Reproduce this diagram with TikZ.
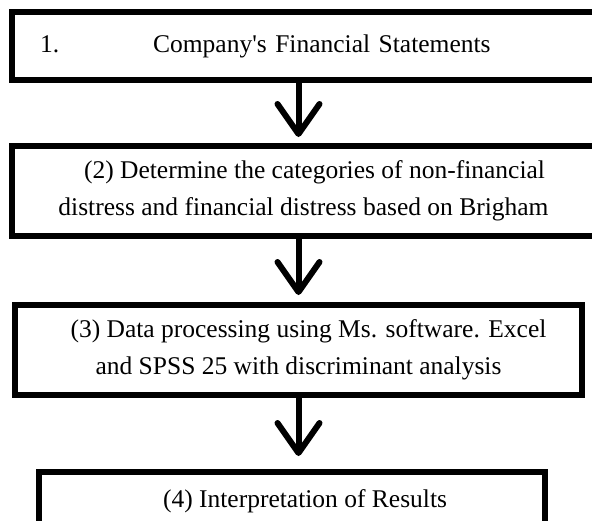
\documentclass[tikz,border=0pt]{standalone}
\usepackage{fontspec}
\setmainfont{Liberation Serif}
\usetikzlibrary{arrows.meta}
\begin{document}
\begin{tikzpicture}[x=0.5pt, y=-0.5pt,
  box/.style={draw, line width=3pt, inner sep=0pt, align=center,
    font=\fontsize{12.75}{18.5}\selectfont},
  flow/.style={line width=3pt, -{Straight Barb[length=15pt, width=21pt, round]}}]
\useasboundingbox (0,0) rectangle (592,520);
\clip (0,0) rectangle (592,520);
\node[box, minimum width=291.5pt, minimum height=34pt, text width=263.5pt, align=left] (a) at (303.5,46) {1.\hspace{47pt}Company\textquotesingle s Financial Statements};
\node[box, minimum width=291.5pt, minimum height=45pt] (b) at (303.5,191) {\hspace*{11pt}(2) Determine the categories of non-financial\\distress and financial distress based on Brigham};
\node[box, minimum width=283.5pt, minimum height=45pt] (c) at (298.5,350) {\hspace*{10pt}(3) Data processing using Ms. software. Excel\\and SPSS 25 with discriminant analysis};
\node[box, minimum width=253pt, minimum height=29pt] (d) at (292,501) {\hspace*{13pt}(4) Interpretation of Results};
\draw[flow, shorten >=3pt] (a.south -| c.center) -- (b.north -| c.center);
\draw[flow, shorten >=3.5pt] (b.south -| c.center) -- (c.north);
\draw[flow, shorten >=6.5pt] (c.south) -- (d.north -| c.center);
\end{tikzpicture}
\end{document}
